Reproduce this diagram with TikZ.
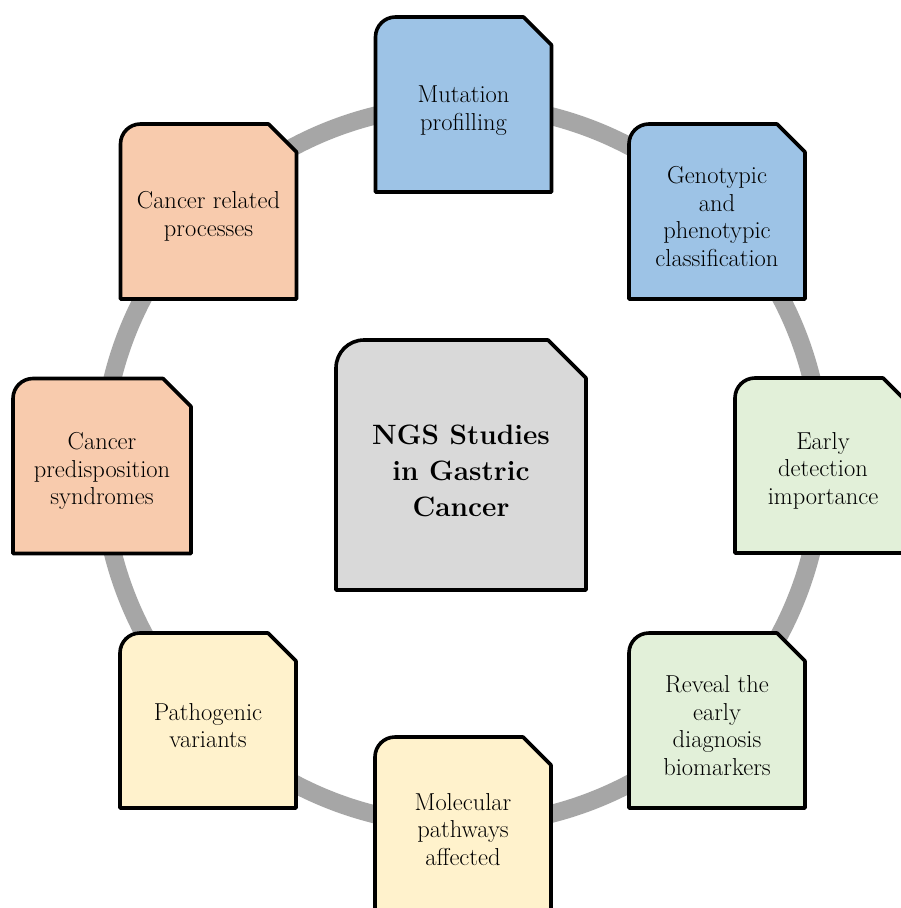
\documentclass[tikz,border=0pt]{standalone}
\usepackage{tikz}
\definecolor{cblue}{HTML}{9DC3E6}
\definecolor{corange}{HTML}{F8CBAD}
\definecolor{cgreen}{HTML}{E2F0D9}
\definecolor{cyellow}{HTML}{FFF2CC}
\definecolor{cgray}{HTML}{D9D9D9}
\definecolor{cring}{HTML}{A6A6A6}
\tikzset{
  boxtext/.style={align=center, font=\fontsize{24.5}{27.5}\selectfont, text=black},
  centertext/.style={align=center, font=\fontsize{28}{36}\selectfont\bfseries, text=black},
  boxline/.style={line width=3.6pt, draw=black, line join=round},
  ring/.style={line width=18pt, draw=cring}
}
\newcommand\SnipBox[8]{%
  \node[minimum width=#4pt, minimum height=#5pt, inner sep=0pt, outer sep=0pt] (#1) at (#2,#3) {};
  \draw[boxline, fill=#6] (#1.south west) -- ([yshift=-20pt]#1.north west)
    arc[start angle=180, end angle=90, radius=20pt]
    -- ([xshift=-28pt]#1.north east) -- ([yshift=-28pt]#1.north east)
    -- (#1.south east) -- cycle;
  \node[boxtext] (#1-t) at ([yshift=-#8pt]#1.center) {#7};
}
\begin{document}
\begin{tikzpicture}[x=1pt, y=-1pt]
\useasboundingbox (0,0) rectangle (900,908);
\fill[white] (0,0) rectangle (900,908);
\coordinate (ringc) at (462,465);
\draw[ring] (ringc) circle[radius=360pt];
\SnipBox{mut}{463.5}{104.5}{176}{175}{cblue}{Mutation\\profilling}{6}
\SnipBox{geno}{717}{211.5}{176}{175}{cblue}{Genotypic\\and\\phenotypic\\classification}{5}
\SnipBox{early}{823}{465.5}{176}{175}{cgreen}{Early\\detection\\importance}{5}
\SnipBox{reveal}{717}{720.5}{176}{175}{cgreen}{Reveal the\\early\\diagnosis\\biomarkers}{5}
\SnipBox{mol}{463}{824.5}{176}{175}{cyellow}{Molecular\\pathways\\affected}{5}
\SnipBox{patho}{208}{720.5}{176}{175}{cyellow}{Pathogenic\\variants}{5}
\SnipBox{predis}{102}{466}{178}{175}{corange}{Cancer\\predisposition\\syndromes}{5}
\SnipBox{related}{208.5}{211.5}{176}{175}{corange}{Cancer related\\processes}{5}
\node[minimum width=250pt, minimum height=250pt, inner sep=0pt, outer sep=0pt] (ngs) at (461,465) {};
\draw[boxline, fill=cgray] (ngs.south west) -- ([yshift=-28pt]ngs.north west)
  arc[start angle=180, end angle=90, radius=28pt]
  -- ([xshift=-38pt]ngs.north east) -- ([yshift=-38pt]ngs.north east)
  -- (ngs.south east) -- cycle;
\node[centertext] (ngs-t) at ([yshift=-6pt]ngs.center) {NGS Studies\\in Gastric\\Cancer};
\end{tikzpicture}
\end{document}
